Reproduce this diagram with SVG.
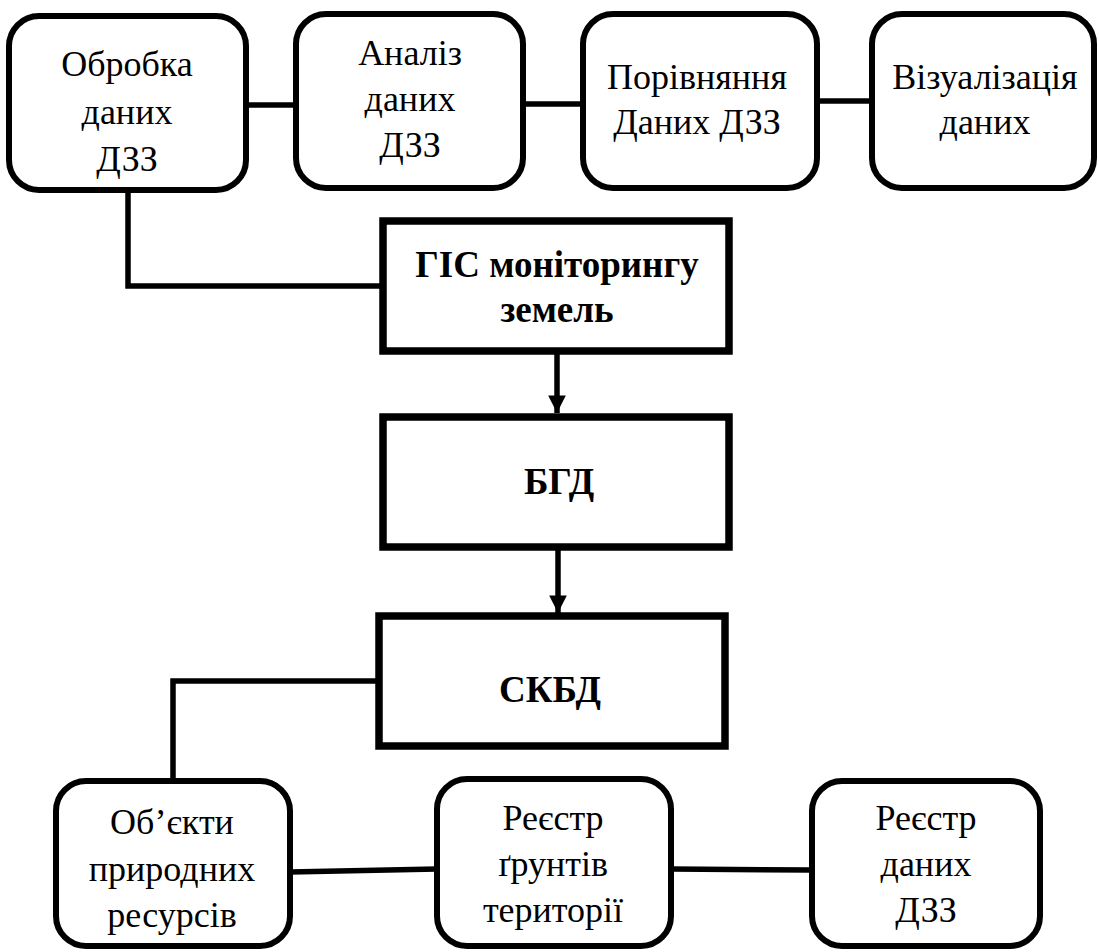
<svg xmlns="http://www.w3.org/2000/svg" width="1099" height="952" viewBox="0 0 1099 952">
<style>
.rr{fill:#fff;stroke:#000;stroke-width:6}
.rb{fill:#fff;stroke:#000;stroke-width:7.5}
.t{font-family:'Liberation Serif','Times New Roman',serif;font-size:36px;fill:#000;text-anchor:middle}
.b{font-family:'Liberation Serif','Times New Roman',serif;font-size:37px;font-weight:bold;fill:#000;text-anchor:middle}
.c{fill:none;stroke:#000;stroke-width:5.5}
</style>
<defs>
<marker id="ah" viewBox="0 0 10 10" refX="10" refY="5" markerWidth="3.2" markerHeight="3.2" markerUnits="strokeWidth" orient="auto">
<path d="M0,0 L10,5 L0,10 z" fill="#000"/>
</marker>
</defs>
<g id="connectors">
<path class="c" d="M246,105 H296"/>
<path class="c" d="M523,104 H583"/>
<path class="c" d="M817,101 H872"/>
<path class="c" d="M128,190 V286 H383"/>
<path class="c" d="M557,351 V413" marker-end="url(#ah)"/>
<path class="c" d="M558,547 V613" marker-end="url(#ah)"/>
<path class="c" d="M379,681 H173 V780"/>
<path class="c" d="M290,872 L437,869"/>
<path class="c" d="M671,869 L812,870"/>
</g>
<g id="n1"><rect class="rr" x="9" y="16" width="237" height="174" rx="30"/>
<text class="t" x="127" y="76">Обробка</text><text class="t" x="127" y="124">даних</text><text class="t" x="127" y="171">ДЗЗ</text></g>
<g id="n2"><rect class="rr" x="296" y="14" width="227" height="174" rx="30"/>
<text class="t" x="410" y="65">Аналіз</text><text class="t" x="410" y="111">даних</text><text class="t" x="410" y="157">ДЗЗ</text></g>
<g id="n3"><rect class="rr" x="583" y="14" width="234" height="174" rx="30"/>
<text class="t" x="697" y="89">Порівняння</text><text class="t" x="697" y="134">Даних ДЗЗ</text></g>
<g id="n4"><rect class="rr" x="872" y="14" width="222" height="174" rx="30"/>
<text class="t" x="985" y="89">Візуалізація</text><text class="t" x="985" y="134">даних</text></g>
<g id="n5"><rect class="rb" x="383" y="221" width="346" height="130"/>
<text class="b" x="557" y="277">ГІС моніторингу</text><text class="b" x="557" y="322">земель</text></g>
<g id="n6"><rect class="rb" x="383" y="417" width="346" height="130"/>
<text class="b" x="559" y="494">БГД</text></g>
<g id="n7"><rect class="rb" x="379" y="616" width="346" height="130"/>
<text class="b" x="550" y="702">СКБД</text></g>
<g id="n8"><rect class="rr" x="56" y="781" width="234" height="165" rx="30"/>
<text class="t" x="172" y="834">Об’єкти</text><text class="t" x="172" y="881">природних</text><text class="t" x="172" y="927">ресурсів</text></g>
<g id="n9"><rect class="rr" x="437" y="779" width="234" height="167" rx="30"/>
<text class="t" x="553" y="830">Реєстр</text><text class="t" x="553" y="876">ґрунтів</text><text class="t" x="553" y="922">території</text></g>
<g id="n10"><rect class="rr" x="812" y="781" width="228" height="165" rx="30"/>
<text class="t" x="926" y="830">Реєстр</text><text class="t" x="926" y="876">даних</text><text class="t" x="926" y="922">ДЗЗ</text></g>
</svg>
